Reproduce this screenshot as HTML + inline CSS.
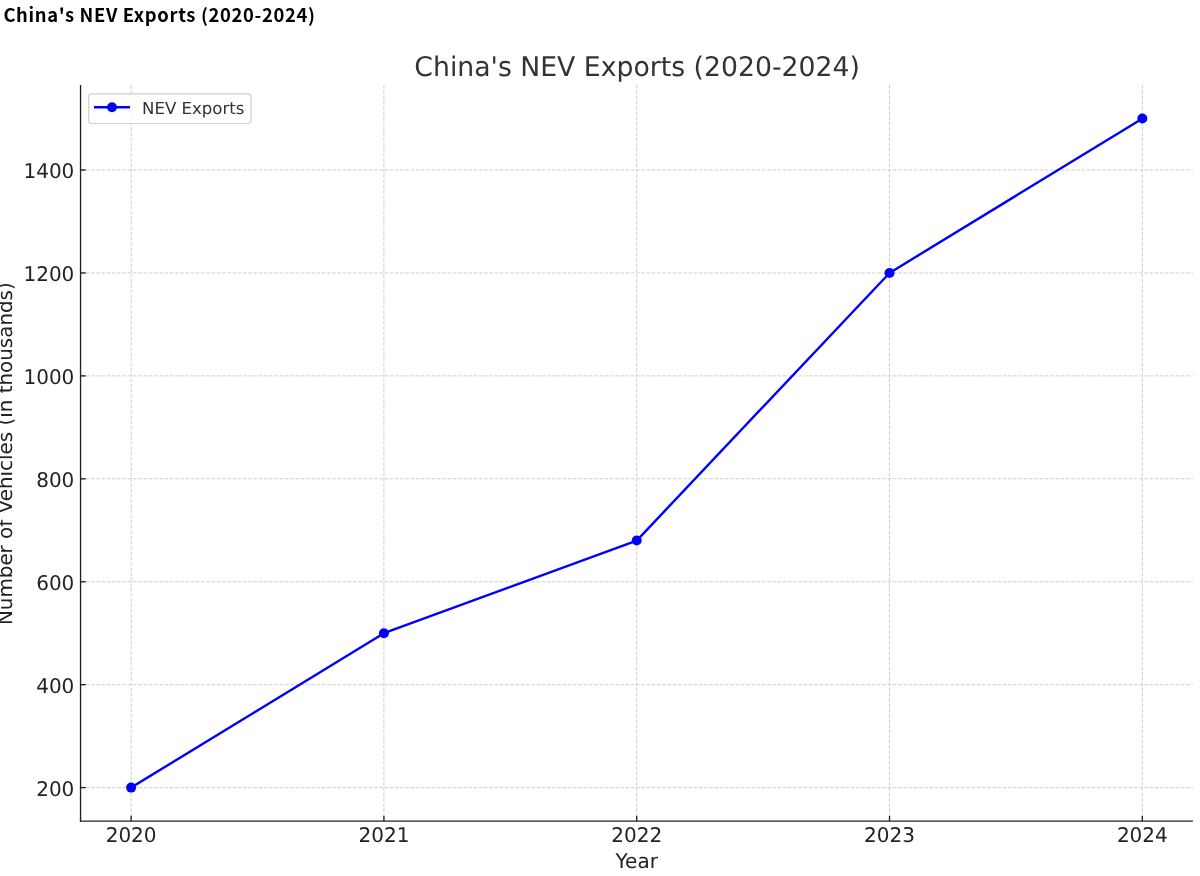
<!DOCTYPE html>
<html><head><meta charset="utf-8"><title>China's NEV Exports (2020-2024)</title>
<style>
html,body{margin:0;padding:0;background:#fff;}
body{width:1200px;height:876px;overflow:hidden;position:relative;}
h1{position:absolute;left:3.4px;top:0;margin:0;font-family:"Noto Sans CJK KR","Liberation Sans",sans-serif;font-weight:bold;font-size:18.4px;letter-spacing:0.65px;line-height:28px;color:#000;white-space:nowrap;}
svg{position:absolute;left:0;top:0;}
svg text{font-family:"DejaVu Sans",sans-serif;text-rendering:geometricPrecision;}
.g{stroke:#cfcfcf;stroke-width:1;stroke-dasharray:3.7 1.54;fill:none;}
.sp{stroke:#222222;stroke-width:1.35;}
.tk{stroke:#222222;stroke-width:1.35;}
.tl{font-size:20px;fill:#222;}
.al{font-size:20px;fill:#222;}
.yl{font-size:19.9px;fill:#222;}
.ti{font-size:26.7px;fill:#333;}
.lt{font-size:16.6px;fill:#333;}
.ln{stroke:#0000ff;stroke-width:2.4;fill:none;stroke-linejoin:round;stroke-linecap:square;}
.mk{fill:#0000ff;stroke:none;}
.lg{fill:#fff;fill-opacity:0.8;stroke:#d0d0d0;stroke-width:1.2;}
</style></head>
<body>
<h1>China's NEV Exports (2020-2024)</h1>
<svg width="1200" height="876" viewBox="0 0 1200 876">
<line x1="131.11" y1="85.10" x2="131.11" y2="821.05" class="g"/>
<line x1="383.92" y1="85.10" x2="383.92" y2="821.05" class="g"/>
<line x1="636.73" y1="85.10" x2="636.73" y2="821.05" class="g"/>
<line x1="889.53" y1="85.10" x2="889.53" y2="821.05" class="g"/>
<line x1="1142.34" y1="85.10" x2="1142.34" y2="821.05" class="g"/>
<line x1="80.55" y1="787.60" x2="1192.90" y2="787.60" class="g"/>
<line x1="80.55" y1="684.67" x2="1192.90" y2="684.67" class="g"/>
<line x1="80.55" y1="581.74" x2="1192.90" y2="581.74" class="g"/>
<line x1="80.55" y1="478.81" x2="1192.90" y2="478.81" class="g"/>
<line x1="80.55" y1="375.88" x2="1192.90" y2="375.88" class="g"/>
<line x1="80.55" y1="272.95" x2="1192.90" y2="272.95" class="g"/>
<line x1="80.55" y1="170.02" x2="1192.90" y2="170.02" class="g"/>
<line x1="80.55" y1="85.10" x2="80.55" y2="821.72" class="sp"/>
<line x1="79.88" y1="821.05" x2="1192.90" y2="821.05" class="sp"/>
<line x1="131.11" y1="821.05" x2="131.11" y2="815.85" class="tk"/>
<line x1="383.92" y1="821.05" x2="383.92" y2="815.85" class="tk"/>
<line x1="636.73" y1="821.05" x2="636.73" y2="815.85" class="tk"/>
<line x1="889.53" y1="821.05" x2="889.53" y2="815.85" class="tk"/>
<line x1="1142.34" y1="821.05" x2="1142.34" y2="815.85" class="tk"/>
<line x1="80.55" y1="787.60" x2="85.75" y2="787.60" class="tk"/>
<line x1="80.55" y1="684.67" x2="85.75" y2="684.67" class="tk"/>
<line x1="80.55" y1="581.74" x2="85.75" y2="581.74" class="tk"/>
<line x1="80.55" y1="478.81" x2="85.75" y2="478.81" class="tk"/>
<line x1="80.55" y1="375.88" x2="85.75" y2="375.88" class="tk"/>
<line x1="80.55" y1="272.95" x2="85.75" y2="272.95" class="tk"/>
<line x1="80.55" y1="170.02" x2="85.75" y2="170.02" class="tk"/>
<text transform="translate(131.11,842.1) scale(1,1.015)" class="tl" text-anchor="middle">2020</text>
<text transform="translate(383.92,842.1) scale(1,1.015)" class="tl" text-anchor="middle">2021</text>
<text transform="translate(636.73,842.1) scale(1,1.015)" class="tl" text-anchor="middle">2022</text>
<text transform="translate(889.53,842.1) scale(1,1.015)" class="tl" text-anchor="middle">2023</text>
<text transform="translate(1142.34,842.1) scale(1,1.015)" class="tl" text-anchor="middle">2024</text>
<text transform="translate(74.35,795.50) scale(1,1.015)" class="tl" text-anchor="end">200</text>
<text transform="translate(74.35,692.57) scale(1,1.015)" class="tl" text-anchor="end">400</text>
<text transform="translate(74.35,589.64) scale(1,1.015)" class="tl" text-anchor="end">600</text>
<text transform="translate(74.35,486.71) scale(1,1.015)" class="tl" text-anchor="end">800</text>
<text transform="translate(74.35,383.78) scale(1,1.015)" class="tl" text-anchor="end">1000</text>
<text transform="translate(74.35,280.85) scale(1,1.015)" class="tl" text-anchor="end">1200</text>
<text transform="translate(74.35,177.92) scale(1,1.015)" class="tl" text-anchor="end">1400</text>
<polyline points="131.11,787.60 383.92,633.20 636.73,540.57 889.53,272.95 1142.34,118.55" class="ln"/>
<circle cx="131.11" cy="787.60" r="5" class="mk"/>
<circle cx="383.92" cy="633.20" r="5" class="mk"/>
<circle cx="636.73" cy="540.57" r="5" class="mk"/>
<circle cx="889.53" cy="272.95" r="5" class="mk"/>
<circle cx="1142.34" cy="118.55" r="5" class="mk"/>
<text transform="translate(637.12,75.8) scale(1,1.015)" class="ti" text-anchor="middle">China's NEV Exports (2020-2024)</text>
<text transform="translate(636.73,868.3) scale(1,1.015)" class="al" text-anchor="middle">Year</text>
<text transform="translate(12,453.68) rotate(-90)" x="0" y="0" class="yl" text-anchor="middle">Number of Vehicles (in thousands)</text>
<rect x="88.7" y="93.8" width="162.3" height="29.7" rx="3" ry="3" class="lg"/>
<line x1="94" y1="107.3" x2="130" y2="107.3" class="ln" style="stroke-linecap:butt"/>
<circle cx="112" cy="107.3" r="5" class="mk"/>
<text x="142" y="113.8" class="lt">NEV Exports</text>
</svg>
</body></html>
